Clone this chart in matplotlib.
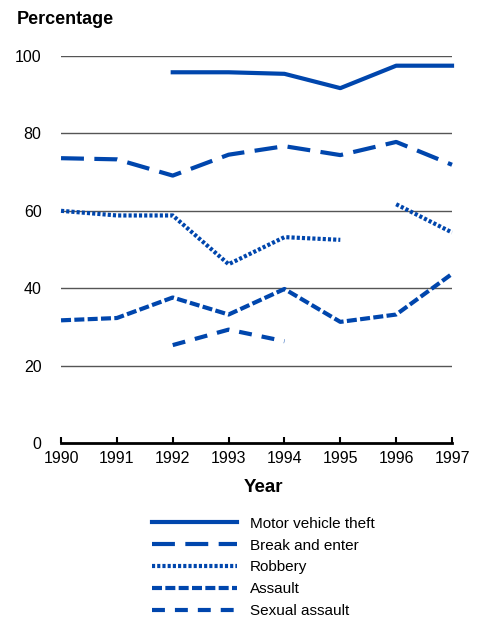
import numpy as np
import matplotlib
matplotlib.use("Agg")
import matplotlib.pyplot as plt

plt.rcParams['font.family'] = ['Liberation Sans', 'DejaVu Sans']

years = [1990, 1991, 1992, 1993, 1994, 1995, 1996, 1997]
nan = np.nan

# percentages (nan = no data)
motor_vehicle = [nan, nan, 95.8, 95.8, 95.4, 91.7, 97.5, 97.5]
break_enter = [73.6, 73.3, 69.1, 74.5, 76.7, 74.4, 77.8, 71.9]
robbery = [60.0, 58.8, 58.8, 46.2, 53.2, 52.5, nan, nan]
robbery_b = [nan, nan, nan, nan, nan, nan, 61.7, 54.4]
assault = [31.7, 32.3, 37.6, 33.2, 39.8, 31.3, 33.2, 43.7]
sexual_assault = [nan, nan, 25.3, 29.3, 26.3, nan, nan, nan]

yticks = [0, 20, 40, 60, 80, 100]
blue = '#0046AD'

fig = plt.figure(figsize=(4.82, 6.17), dpi=100)
ax = fig.add_axes([0.1266, 0.2820, 0.8112, 0.6272])

for y in yticks[1:]:
    ax.axhline(y, color='#555555', lw=1, zorder=1)

lw = 3
ax.plot(years, motor_vehicle, color=blue, lw=lw, ls='-', label='Motor vehicle theft', clip_on=False)
ax.plot(years, break_enter, color=blue, lw=lw, ls=(0, (5.5, 2.5)), label='Break and enter', clip_on=False)
ax.plot(years, robbery, color=blue, lw=lw, ls=(0, (0.75, 0.5)), label='Robbery', clip_on=False)
ax.plot(years, robbery_b, color=blue, lw=lw, ls=(0, (0.75, 0.5)), clip_on=False)
ax.plot(years, assault, color=blue, lw=lw, ls=(0, (2.4, 0.8)), label='Assault', clip_on=False)
ax.plot(years, sexual_assault, color=blue, lw=lw, ls=(0, (3.1, 2.4)), label='Sexual assault', clip_on=False)

ax.set_xlim(1990, 1997)
ax.set_ylim(0, 100)
ax.set_xticks(years)
ax.set_yticks(yticks)
ax.tick_params(axis='y', length=0, pad=14, labelsize=11.5)
ax.tick_params(axis='x', direction='in', length=4, width=1.5, pad=6, labelsize=11.5)
for s in ['left', 'right', 'top']:
    ax.spines[s].set_visible(False)
ax.spines['bottom'].set_linewidth(2)

fig.text(17 / 482, 1 - 20 / 617, 'Percentage', fontsize=13, fontweight='bold', ha='left', va='center')
fig.text(263 / 482, 1 - 487 / 617, 'Year', fontsize=13.5, fontweight='bold', ha='center', va='center')

fig.legend(loc='upper left', bbox_to_anchor=(138 / 482, 1 - 503 / 617), frameon=False,
           fontsize=11, handlelength=5.6, handletextpad=0.8, labelspacing=0.51)

fig.savefig('out.png', dpi=100)
